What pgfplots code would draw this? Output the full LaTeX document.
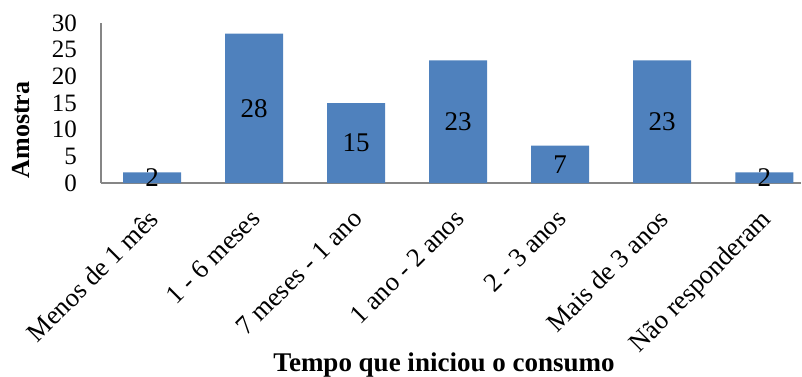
\documentclass[border=0pt]{standalone}
\usepackage{pgfplots}
\pgfplotsset{compat=1.18}
\usepackage{pgfplotstable}
\usepackage{fontspec}
\setmainfont{Liberation Serif}

\definecolor{barblue}{HTML}{4F81BD}
\definecolor{axisgray}{HTML}{868686}

% Tempo desde o início do consumo: número de respostas por faixa
\pgfplotstableread{
x v
0 2
1 28
2 15
3 23
4 7
5 23
6 2
}\tempo

\begin{document}
\begin{tikzpicture}
\begin{axis}[
  scale only axis,
  width=700pt, height=160pt,
  xmin=-0.5, xmax=6.36,
  ymin=0, ymax=30,
  axis x line*=bottom,
  axis y line*=left,
  axis line style={axisgray, line width=1.2pt},
  major tick length=0pt,
  ytick={0,5,...,30},
  xtick={0,...,6},
  xticklabels={Menos de 1 mês, 1 - 6 meses, 7 meses - 1 ano, 1 ano - 2 anos,
               2 - 3 anos, Mais de 3 anos, Não responderam},
  /pgf/number format/assume math mode=true,
  x tick label style={rotate=45, anchor=north east, inner sep=0pt,
                      xshift=-21pt, yshift=-14pt,
                      font=\fontsize{26.5}{30}\selectfont},
  y tick label style={inner sep=0pt, xshift=-24pt,
                      font=\fontsize{25}{30}\selectfont},
  xlabel={Tempo que iniciou o consumo},
  ylabel={Amostra},
  every axis x label/.style={at={(axis description cs:0.49,-1.138)},
                             anchor=center, font=\fontsize{27}{30}\selectfont\bfseries},
  every axis y label/.style={at={(axis description cs:-0.114,0.331)},
                             anchor=center, rotate=90, font=\fontsize{26}{30}\selectfont\bfseries},
  clip=false,
]
\addplot[ybar, bar width=58pt, fill=barblue, draw=none]
  table[x=x, y=v]{\tempo};
\addplot[draw=none, mark=none, point meta=\thisrow{v},
         nodes near coords,
         nodes near coords style={anchor=center, inner sep=0pt,
                                  font=\fontsize{27}{30}\selectfont}]
  table[x=x, y expr=\thisrow{v}/2]{\tempo};
\coordinate (o) at (rel axis cs:0,0);
\end{axis}
\pgfresetboundingbox
\path (o) ++(-101pt,-193pt) rectangle ++(802pt,376pt);
\end{tikzpicture}
\end{document}
